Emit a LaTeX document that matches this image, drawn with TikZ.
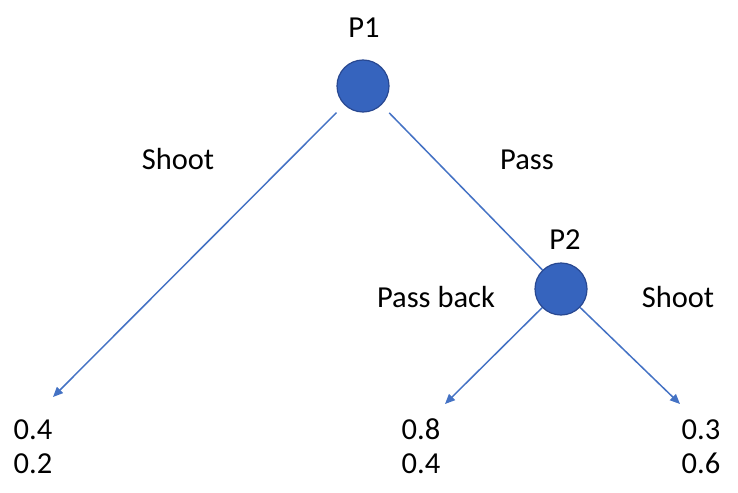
\documentclass[tikz,border=0pt]{standalone}
\usepackage{fontspec}
\setmainfont{Carlito}
\usetikzlibrary{arrows.meta}
\definecolor{linkblue}{RGB}{68,114,196}
\definecolor{nodefill}{RGB}{54,100,190}
\definecolor{nodeedge}{RGB}{40,72,145}
\tikzset{
  player/.style={circle, minimum size=52pt, inner sep=0pt, fill=nodefill, draw=nodeedge, line width=1.2pt},
  lbl/.style={anchor=base, inner sep=0pt, font=\fontsize{30.5}{34}\selectfont},
  edge/.style={draw=linkblue, line width=1.5pt},
  arr/.style={edge, -{Triangle[length=10pt,width=8.5pt]}}
}
\begin{document}
\begin{tikzpicture}[x=1pt,y=-1pt]
\useasboundingbox (0,0) rectangle (738,492);
\node[player] (p1) at (363,86) {};
\node[player] (p2) at (561,289) {};
\coordinate (t1) at (53,397);
\coordinate (t2) at (445,404);
\coordinate (t3) at (680,404);
\node[lbl] (lp1) at (364,38) {P1};
\node[lbl] (lp2) at (565,249) {P2};
\node[lbl] (ls1) at (178,169) {Shoot};
\node[lbl] (lpass) at (527,169) {Pass};
\node[lbl] (lpb) at (436,307) {Pass back};
\node[lbl] (ls2) at (678,307) {Shoot};
\node[lbl] (a1) at (33,439) {0.4};
\node[lbl] (b1) at (33,473) {0.2};
\node[lbl] (a2) at (421,439) {0.8};
\node[lbl] (b2) at (421,473) {0.4};
\node[lbl] (a3) at (701,439) {0.3};
\node[lbl] (b3) at (701,473) {0.6};
\draw[arr, shorten <=11pt] (p1) -- (t1);
\draw[edge, shorten <=11pt] (p1) -- (p2);
\draw[arr] (p2) -- (t2);
\draw[arr] (p2) -- (t3);
\end{tikzpicture}
\end{document}
